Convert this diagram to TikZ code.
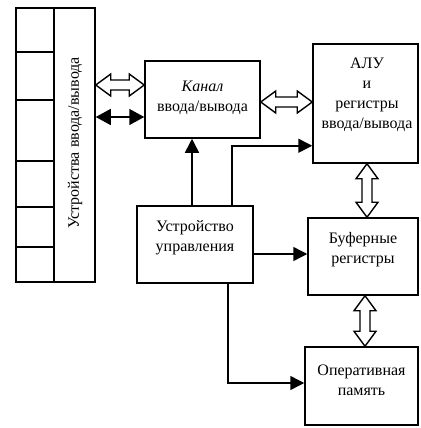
\documentclass[tikz,border=0pt]{standalone}
\usepackage{fontspec}
\setmainfont{Liberation Serif}
\usetikzlibrary{arrows.meta,calc}
\tikzset{
  box/.style={draw,line width=1.5pt,rectangle,align=center,inner sep=2pt},
  txt/.style={align=center,font=\fontsize{16}{20}\selectfont,inner sep=0pt},
  ctrl/.style={line width=1.5pt,-{Triangle[length=14pt,width=14pt]}},
  both/.style={line width=1.5pt,{Triangle[length=15pt,width=16pt]}-{Triangle[length=15pt,width=16pt]}},
  hollow/.style={line width=1.4pt,fill=white,line join=miter}
}
% horizontal hollow double arrow between two points at the same height
\newcommand\hollowH[2]{%
  \draw[hollow] let \p1=#1, \p2=#2 in
   (\x1,\y1) -- (\x1+15pt,\y1+11pt) -- (\x1+15pt,\y1+5pt) -- (\x2-15pt,\y1+5pt)
   -- (\x2-15pt,\y1+11pt) -- (\x2,\y1) -- (\x2-15pt,\y1-11pt) -- (\x2-15pt,\y1-5pt)
   -- (\x1+15pt,\y1-5pt) -- (\x1+15pt,\y1-11pt) -- cycle;}
% vertical hollow double arrow: #1 upper point, #2 lower point
\newcommand\hollowV[2]{%
  \draw[hollow] let \p1=#1, \p2=#2 in
   (\x1,\y1) -- (\x1+11pt,\y1-15pt) -- (\x1+5pt,\y1-15pt) -- (\x1+5pt,\y2+15pt)
   -- (\x1+11pt,\y2+15pt) -- (\x1,\y2) -- (\x1-11pt,\y2+15pt) -- (\x1-5pt,\y2+15pt)
   -- (\x1-5pt,\y1-15pt) -- (\x1-11pt,\y1-15pt) -- cycle;}
\begin{document}
\begin{tikzpicture}[x=1pt,y=-1pt]
\fill[white] (0,0) rectangle (420,428);
\useasboundingbox (0,0) rectangle (420,428);

% input/output devices
\node[box,minimum width=79pt,minimum height=274pt] (io) at (55.5,145) {};
\draw[line width=1.5pt] (54,8) -- (54,282);
\foreach \yy in {52,100,161,207,247}
  \draw[line width=1.5pt] (16,\yy) -- (54,\yy);
\node[txt,rotate=90] (iolabel) at (75,143) {Устройства ввода/вывода};

% blocks
\node[box,minimum width=115pt,minimum height=77pt] (kanal) at (202.5,99.5) {};
\node[txt] (kanaltext) at (202.5,98) {{\itshape Канал}\\ввода/вывода};
\node[box,minimum width=105pt,minimum height=119pt] (alu) at (365.5,103.5) {};
\node[txt] (alutext) at (367,95) {АЛУ\\и\\регистры\\ввода/вывода};
\node[box,minimum width=116pt,minimum height=77pt] (uu) at (195,244.5) {};
\node[txt] (uutext) at (195,238) {Устройство\\управления};
\node[box,minimum width=110pt,minimum height=77pt] (buf) at (363,256.5) {};
\node[txt] (buftext) at (363,250) {Буферные\\регистры};
\node[box,minimum width=113pt,minimum height=78pt] (mem) at (361.5,386) {};
\node[txt] (memtext) at (361.5,380) {Оперативная\\память};

% io <-> kanal
\hollowH{(io.east |- 0,85)}{(kanal.west |- 0,85)}
\draw[both] (io.east |- 0,117) -- (kanal.west |- 0,117);
% kanal <-> alu
\hollowH{(kanal.east |- 0,102)}{(alu.west |- 0,102)}
% alu <-> buf, buf <-> mem
\hollowV{(alu.south -| 367,0)}{(buf.north -| 367,0)}
\hollowV{(buf.south -| 365,0)}{(mem.north -| 365,0)}

% control lines
\draw[ctrl] ($(uu.north)+(-3,0)$) -- ($(kanal.south)+(-10.5,0)$);
\coordinate (c2) at ($(uu.north)+(37,0)$);
\draw[ctrl] (c2) |- ($(alu.south west)+(0,-18)$);
\draw[ctrl] (uu.east |- 0,254) -- (buf.west |- 0,254);
\coordinate (c3) at ($(uu.south)+(33,0)$);
\draw[ctrl] (c3) |- (mem.west |- 0,383);
\end{tikzpicture}
\end{document}
